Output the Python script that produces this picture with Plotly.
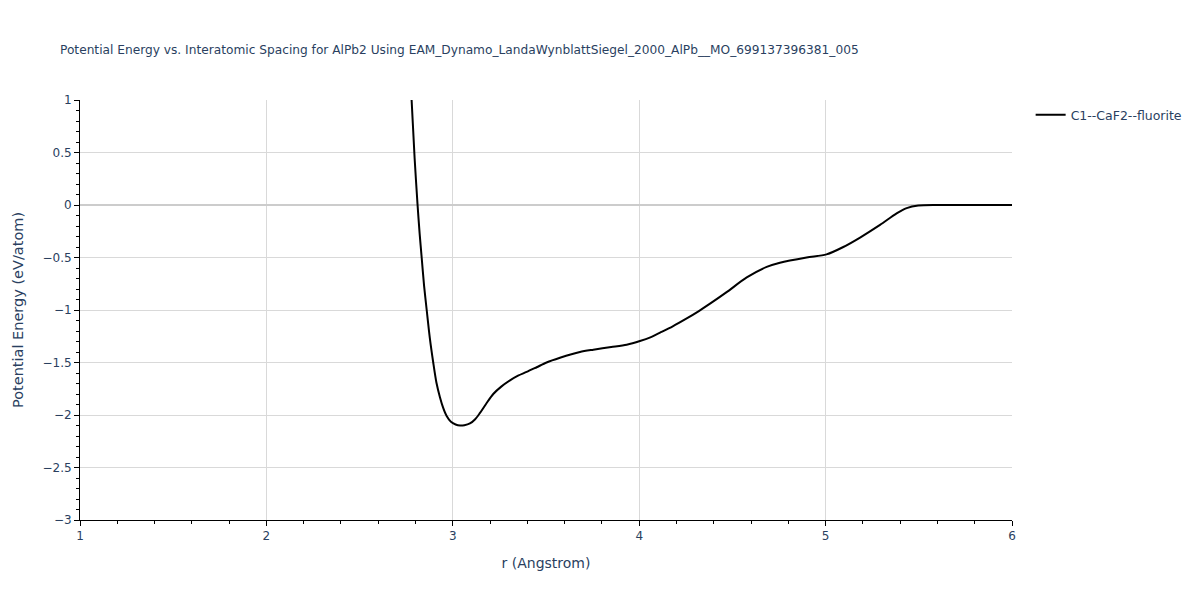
import plotly.graph_objects as go

r_vals = [2.74, 2.779, 2.795, 2.811, 2.822, 2.833, 2.846, 2.86, 2.877, 2.895, 2.912, 2.931,
          2.948, 2.967, 2.99, 3.015, 3.039, 3.062, 3.092, 3.12, 3.146, 3.18, 3.217,
          3.26, 3.307, 3.35, 3.396, 3.45, 3.503, 3.575, 3.682, 3.754, 3.85, 3.933,
          4.004, 4.06, 4.112, 4.18, 4.255, 4.32, 4.38, 4.469, 4.577, 4.684, 4.755,
          4.898, 5.005, 5.095, 5.185, 5.292, 5.381, 5.435, 5.497, 5.6, 5.75, 6.0]
energy = [2.2, 1.0, 0.45, 0.0, -0.27, -0.50, -0.77, -1.0, -1.27, -1.5, -1.69, -1.83,
          -1.93, -2.01, -2.065, -2.09, -2.10, -2.097, -2.08, -2.04, -1.98, -1.89, -1.80,
          -1.73, -1.67, -1.625, -1.59, -1.545, -1.50, -1.455, -1.40, -1.378, -1.353, -1.33,
          -1.295, -1.26, -1.215, -1.155, -1.08, -1.01, -0.94, -0.83, -0.69, -0.59, -0.55,
          -0.50, -0.47, -0.40, -0.31, -0.19, -0.08, -0.03, -0.005, 0.0, 0.0, 0.0]

series_name = "C1--CaF2--fluorite"
title_text = ("Potential Energy vs. Interatomic Spacing for AlPb2 Using "
              "EAM_Dynamo_LandaWynblattSiegel_2000_AlPb__MO_699137396381_005")

FONT = "DejaVu Sans, Verdana, sans-serif"
TXT = "#2a3f5f"

fig = go.Figure()
fig.add_trace(go.Scatter(x=r_vals, y=energy, mode="lines", name=series_name,
                         line=dict(color="black", width=2, shape="spline", smoothing=0.8)))

axis_common = dict(showline=True, linecolor="black", linewidth=1, ticks="outside",
                   tickcolor="black", ticklen=5, showgrid=True, gridcolor="#d9d9d9",
                   gridwidth=1, tickfont=dict(size=12, color=TXT, family=FONT),
                   mirror=False)

fig.update_layout(
    width=1200, height=600,
    paper_bgcolor="white", plot_bgcolor="white",
    font=dict(family=FONT, color=TXT),
    title=dict(text=title_text, x=0.05, xanchor="left", y=0.925,
               font=dict(size=12.2, color=TXT, family=FONT)),
    showlegend=True,
    legend=dict(font=dict(size=12.5, color=TXT, family=FONT)),
    margin=dict(l=80, r=80, t=100, b=80),
)
fig.update_xaxes(range=[1, 6], dtick=1, title=dict(text="r (Angstrom)", font=dict(size=14)),
                 minor=dict(dtick=0.2, ticks="outside", ticklen=3, tickcolor="black", showgrid=False),
                 zeroline=False, **axis_common)
fig.update_yaxes(range=[-3, 1], dtick=0.5,
                 title=dict(text="Potential Energy (eV/atom)", font=dict(size=14.5)),
                 minor=dict(dtick=0.1, ticks="outside", ticklen=3, tickcolor="black", showgrid=False),
                 zeroline=True, zerolinecolor="#cccccc", zerolinewidth=2, **axis_common)

fig.write_html("out.html", config={"displayModeBar": False},
               post_script="document.body.style.margin='0';document.body.style.padding='0';")
